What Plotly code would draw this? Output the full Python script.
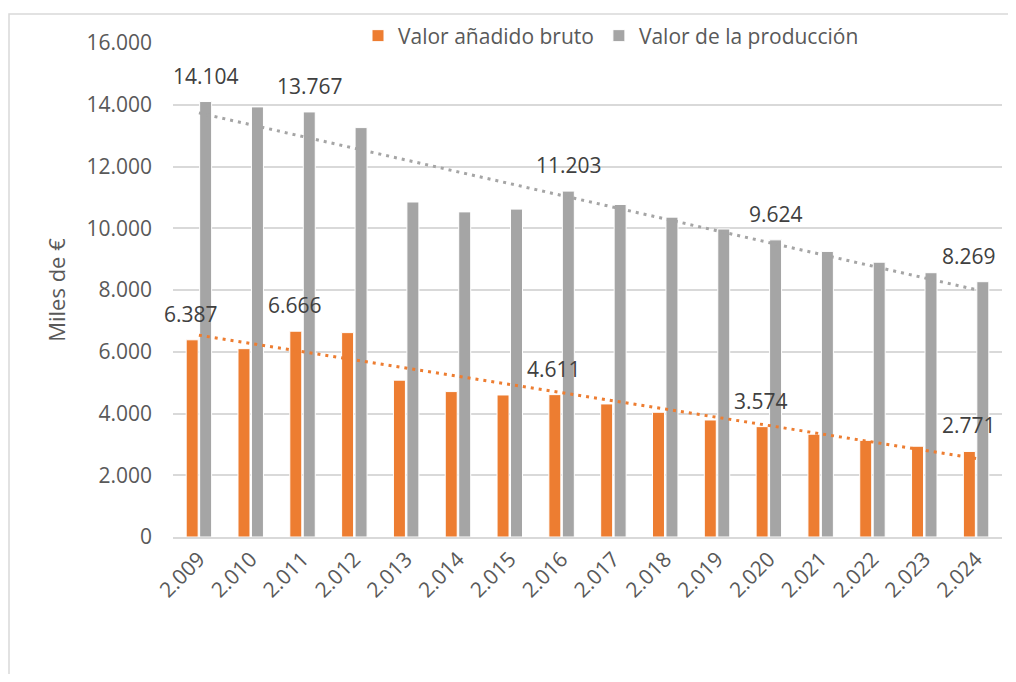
import numpy as np
import plotly.graph_objects as go

years = ["2.009", "2.010", "2.011", "2.012", "2.013", "2.014", "2.015", "2.016",
         "2.017", "2.018", "2.019", "2.020", "2.021", "2.022", "2.023", "2.024"]
vab = [6387, 6100, 6666, 6620, 5080, 4710, 4600, 4611,
       4310, 4040, 3790, 3574, 3330, 3130, 2940, 2771]
produccion = [14104, 13930, 13767, 13260, 10850, 10530, 10620, 11203,
              10770, 10360, 9975, 9624, 9250, 8900, 8560, 8269]
label_idx = [0, 2, 7, 11, 15]

ORANGE = "#ed7d31"
GRAY = "#a5a5a5"
FONT = "Open Sans"
TXT = "#595959"

W, H = 1008, 666

fig = go.Figure()
fig.add_trace(go.Bar(x=years, y=vab, name="Valor añadido bruto",
                     marker=dict(color=ORANGE, line=dict(color="white", width=1))))
fig.add_trace(go.Bar(x=years, y=produccion, name="Valor de la producción",
                     marker=dict(color=GRAY, line=dict(color="white", width=1))))

idx = np.arange(len(years))
for vals, col in [(vab, ORANGE), (produccion, GRAY)]:
    a, b = np.polyfit(idx, vals, 1)
    fig.add_trace(go.Scatter(x=years, y=a * idx + b, mode="lines", showlegend=False,
                             hoverinfo="skip",
                             line=dict(color=col, width=3, dash="3px,5px")))

def fmt(v):
    return f"{v:,}".replace(",", ".")

ann = []
for i in label_idx:
    last = i == len(years) - 1
    ann.append(dict(x=i, y=vab[i], xref="x", yref="y", text=fmt(vab[i]),
                    showarrow=False, xshift=-7.5, yshift=26, yanchor="middle",
                    font=dict(family=FONT, size=21, color="#404040")))
    ann.append(dict(x=i, y=produccion[i], xref="x", yref="y", text=fmt(produccion[i]),
                    showarrow=False, xshift=22 if last else 7.5, yshift=26,
                    xanchor="right" if last else "center", yanchor="middle",
                    font=dict(family=FONT, size=21, color="#404040")))

fig.update_layout(
    width=W, height=H,
    margin=dict(l=165, r=W - 994, t=35, b=H - 529, autoexpand=False),
    paper_bgcolor="white", plot_bgcolor="white",
    separators=",.",
    barmode="group", bargap=0.48, bargroupgap=0.11,
    font=dict(family=FONT, size=21, color=TXT),
    legend=dict(orientation="h", xref="container", yref="container",
                x=350 / W, xanchor="left", y=1 - 28 / H, yanchor="middle",
                bgcolor="rgba(0,0,0,0)", font=dict(family=FONT, size=21, color=TXT),
                itemclick=False),
    annotations=ann,
    shapes=[dict(type="rect", xref="paper", yref="paper",
                 x0=(9 - 173) / 829, x1=(1030 - 173) / 829,
                 y0=(537 - 700) / 494, y1=(537 - 14) / 494,
                 line=dict(color="#d9d9d9", width=1.5), fillcolor="rgba(0,0,0,0)",
                 layer="below")],
)
fig.update_xaxes(type="category", range=[-0.5, len(years) - 0.5], tickangle=-45,
                 showgrid=False, showline=True,
                 linecolor="#d9d9d9", linewidth=1.5, ticks="", automargin=False,
                 tickfont=dict(family=FONT, size=21, color=TXT))
fig.update_yaxes(range=[0, 16000], dtick=2000, tickformat=",d", showgrid=True,
                 gridcolor="#d9d9d9", gridwidth=1.5, zeroline=False, showline=False,
                 ticklabelstandoff=20, automargin=False,
                 tickfont=dict(family=FONT, size=21, color=TXT),
                 title=dict(text="Miles de €", standoff=14,
                            font=dict(family=FONT, size=22, color=TXT)))

fig.write_html("out.html")
